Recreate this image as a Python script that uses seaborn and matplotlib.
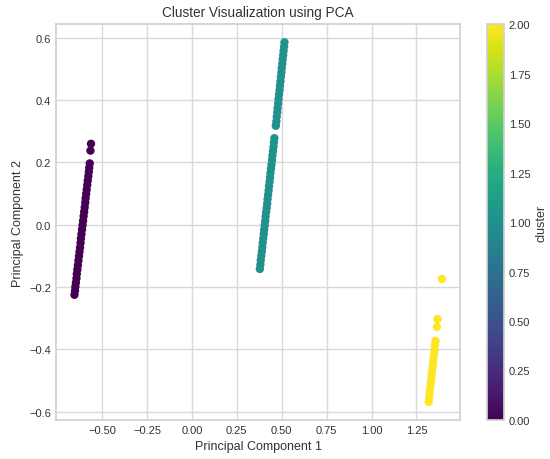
import matplotlib
matplotlib.use("Agg")
import matplotlib.pyplot as plt
import seaborn as sns
import numpy as np

# === Data (PCA components per cluster) ===
pc1_c0 = [-0.562, -0.565, -0.569, -0.572, -0.574, -0.577, -0.580, -0.583, -0.586, -0.589,
          -0.592, -0.594, -0.597, -0.600, -0.603, -0.606, -0.609, -0.612, -0.615, -0.618,
          -0.620, -0.623, -0.626, -0.629, -0.632, -0.635, -0.638, -0.641, -0.643, -0.646,
          -0.649, -0.651, -0.654]
pc2_c0 = [0.260, 0.238, 0.197, 0.183, 0.170, 0.156, 0.142, 0.128, 0.113, 0.099,
          0.085, 0.071, 0.056, 0.042, 0.028, 0.013, -0.001, -0.015, -0.030, -0.044,
          -0.058, -0.073, -0.087, -0.101, -0.115, -0.130, -0.144, -0.158, -0.172, -0.186,
          -0.199, -0.212, -0.225]

pc1_c1 = [0.515, 0.513, 0.510, 0.508, 0.505, 0.503, 0.500, 0.498, 0.495, 0.493,
          0.490, 0.488, 0.485, 0.482, 0.480, 0.477, 0.475, 0.472, 0.470, 0.467,
          0.459, 0.456, 0.454, 0.451, 0.448, 0.446, 0.443, 0.440, 0.437, 0.435,
          0.432, 0.429, 0.427, 0.424, 0.421, 0.419, 0.416, 0.413, 0.410, 0.408,
          0.405, 0.402, 0.400, 0.397, 0.394, 0.392, 0.389, 0.386, 0.383, 0.381,
          0.378]
pc2_c1 = [0.586, 0.572, 0.558, 0.545, 0.531, 0.517, 0.503, 0.489, 0.475, 0.461,
          0.447, 0.433, 0.419, 0.404, 0.390, 0.375, 0.361, 0.347, 0.332, 0.318,
          0.278, 0.264, 0.250, 0.236, 0.222, 0.208, 0.194, 0.180, 0.166, 0.152,
          0.138, 0.124, 0.110, 0.096, 0.082, 0.068, 0.054, 0.040, 0.026, 0.012,
          -0.002, -0.016, -0.030, -0.044, -0.058, -0.072, -0.086, -0.100, -0.114, -0.128,
          -0.142]

pc1_c2 = [1.392, 1.367, 1.364, 1.356, 1.353, 1.351, 1.348, 1.345, 1.342, 1.340,
          1.337, 1.334, 1.332, 1.329, 1.326, 1.323, 1.321, 1.318]
pc2_c2 = [-0.174, -0.303, -0.328, -0.373, -0.387, -0.401, -0.415, -0.429, -0.443, -0.457,
          -0.471, -0.485, -0.499, -0.513, -0.527, -0.541, -0.555, -0.569]

pc1 = pc1_c0 + pc1_c1 + pc1_c2
pc2 = pc2_c0 + pc2_c1 + pc2_c2
cluster = [0] * len(pc1_c0) + [1] * len(pc1_c1) + [2] * len(pc1_c2)

# === Style ===
sns.set_theme(style="whitegrid")
plt.rcParams["font.family"] = ["Liberation Sans", "DejaVu Sans"]
plt.rcParams["axes.edgecolor"] = "#d0d0d0"
plt.rcParams["grid.color"] = "#d9d9d9"

fig = plt.figure(figsize=(5.5, 4.6), dpi=100)
ax = fig.add_axes([0.102, 0.085, 0.735, 0.86])
cax = fig.add_axes([0.885, 0.085, 0.031, 0.86])

sc = ax.scatter(pc1, pc2, c=cluster, cmap="viridis", s=36, linewidths=0)

cbar = fig.colorbar(sc, cax=cax)
cbar.set_label("cluster", fontsize=9, color="#333333")
cbar.set_ticks([0, 0.25, 0.5, 0.75, 1.0, 1.25, 1.5, 1.75, 2.0])
cbar.ax.tick_params(labelsize=8, colors="#333333", length=0)
cbar.outline.set_edgecolor("#d0d0d0")

ax.set_title("Cluster Visualization using PCA", fontsize=9.8, color="#333333")
ax.set_xlabel("Principal Component 1", fontsize=9, color="#333333", labelpad=4)
ax.set_ylabel("Principal Component 2", fontsize=9, color="#333333", labelpad=4)
ax.tick_params(labelsize=8, colors="#333333", length=0)
ax.set_xticks([-0.5, -0.25, 0, 0.25, 0.5, 0.75, 1.0, 1.25])
ax.set_xticklabels(["−0.50", "−0.25", "0.00", "0.25", "0.50", "0.75", "1.00", "1.25"])

fig.savefig("out.png", dpi=100)
plt.close(fig)
